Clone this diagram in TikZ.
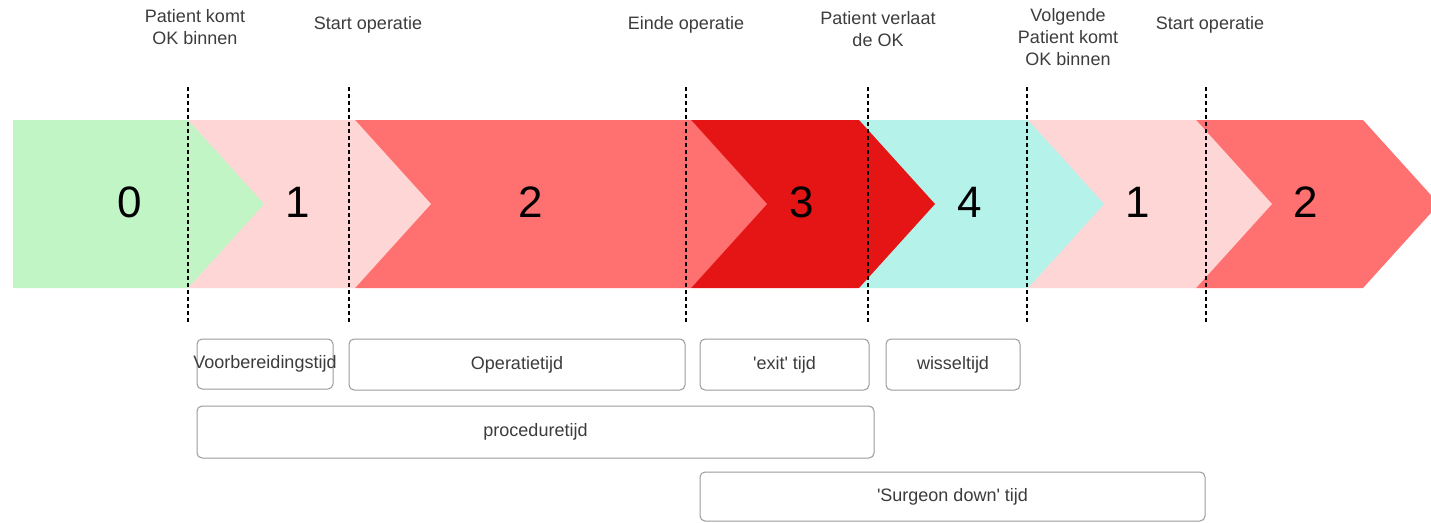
\documentclass[tikz,border=0pt]{standalone}
\usepackage{fontspec}
\setmainfont{Liberation Sans}
\definecolor{cgreen}{HTML}{C2F5C6}
\definecolor{cpink}{HTML}{FFD6D6}
\definecolor{cred}{HTML}{FF7070}
\definecolor{cdark}{HTML}{E51515}
\definecolor{ccyan}{HTML}{B5F2EA}
\definecolor{ctext}{HTML}{3C3C3C}
\definecolor{cborder}{HTML}{9A9A9A}
\newcommand\chevshape[4]{% left flat x, top-right x, colour, name
  \fill[#3] (#1,120) -- (#2,120) -- (#2+76,204) -- (#2,288) -- (#1,288) -- cycle;}
\begin{document}
\begin{tikzpicture}[x=1pt,y=-1pt,
  digit/.style={font=\fontsize{44}{44}\selectfont, text=black, inner sep=0},
  toplabel/.style={font=\fontsize{18}{22}\selectfont, text=ctext, align=center, inner sep=0},
  boxframe/.style={draw=cborder, line width=1pt, rounded corners=5pt, inner sep=0, fill=white},
  boxtext/.style={font=\fontsize{18}{22}\selectfont, text=ctext, inner sep=0},
  marker/.style={line width=1.4pt, dash pattern=on 4pt off 3pt, black}]
\useasboundingbox (0,0) rectangle (1431,522);
\clip (0,0) rectangle (1431,522);
% chevrons, drawn from right to left so each tip covers the next notch
\chevshape{1196}{1363}{cred}{c7}
\chevshape{1028}{1196}{cpink}{c6}
\chevshape{859}{1028}{ccyan}{c5}
\chevshape{691}{859}{cdark}{c4}
\chevshape{355}{691}{cred}{c3}
\chevshape{188}{355}{cpink}{c2}
\chevshape{13}{188}{cgreen}{c1}
% phase numbers
\node[digit] (n0) at (130,202) {0};
\node[digit] (n1) at (298,202) {1};
\node[digit] (n2) at (531,202) {2};
\node[digit] (n3) at (802,202) {3};
\node[digit] (n4) at (970,202) {4};
\node[digit] (n5) at (1138,202) {1};
\node[digit] (n6) at (1306,202) {2};
% dashed markers
\foreach \i/\x in {a/188,b/349,c/686,d/868,e/1027,f/1206}{
  \coordinate (t\i) at (\x,87);
  \coordinate (b\i) at (\x,322);
  \draw[marker] (t\i) -- (b\i);
}
% top labels
\node[toplabel] (l1) at (195,27) {Patient komt\\OK binnen};
\node[toplabel] (l2) at (368,25) {Start operatie};
\node[toplabel] (l3) at (686,25) {Einde operatie};
\node[toplabel] (l4) at (878,29) {Patient verlaat\\de OK};
\node[toplabel] (l5) at (1068,37) {Volgende\\Patient komt\\OK binnen};
\node[toplabel] (l6) at (1210,25) {Start operatie};
% time boxes
\node[boxframe, minimum width=136pt, minimum height=50pt] (bvb) at (265,364) {};
\node[boxtext] (tvb) at (bvb) {Voorbereidingstijd};
\node[boxframe, minimum width=336pt, minimum height=51pt] (bop) at (517,364.5) {};
\node[boxtext] (top) at (bop) {Operatietijd};
\node[boxframe, minimum width=169pt, minimum height=51pt] (bex) at (784.5,364.5) {};
\node[boxtext] (tex) at (bex) {\textquotesingle exit\textquotesingle{} tijd};
\node[boxframe, minimum width=134pt, minimum height=51pt] (bwi) at (953,364.5) {};
\node[boxtext] (twi) at (bwi) {wisseltijd};
\node[boxframe, minimum width=677pt, minimum height=52pt] (bpr) at (535.5,432) {};
\node[boxtext] (tpr) at (bpr) {proceduretijd};
\node[boxframe, minimum width=505pt, minimum height=49pt] (bsd) at (952.5,496.5) {};
\node[boxtext] (tsd) at (bsd) {\textquotesingle Surgeon down\textquotesingle{} tijd};
\end{tikzpicture}
\end{document}
